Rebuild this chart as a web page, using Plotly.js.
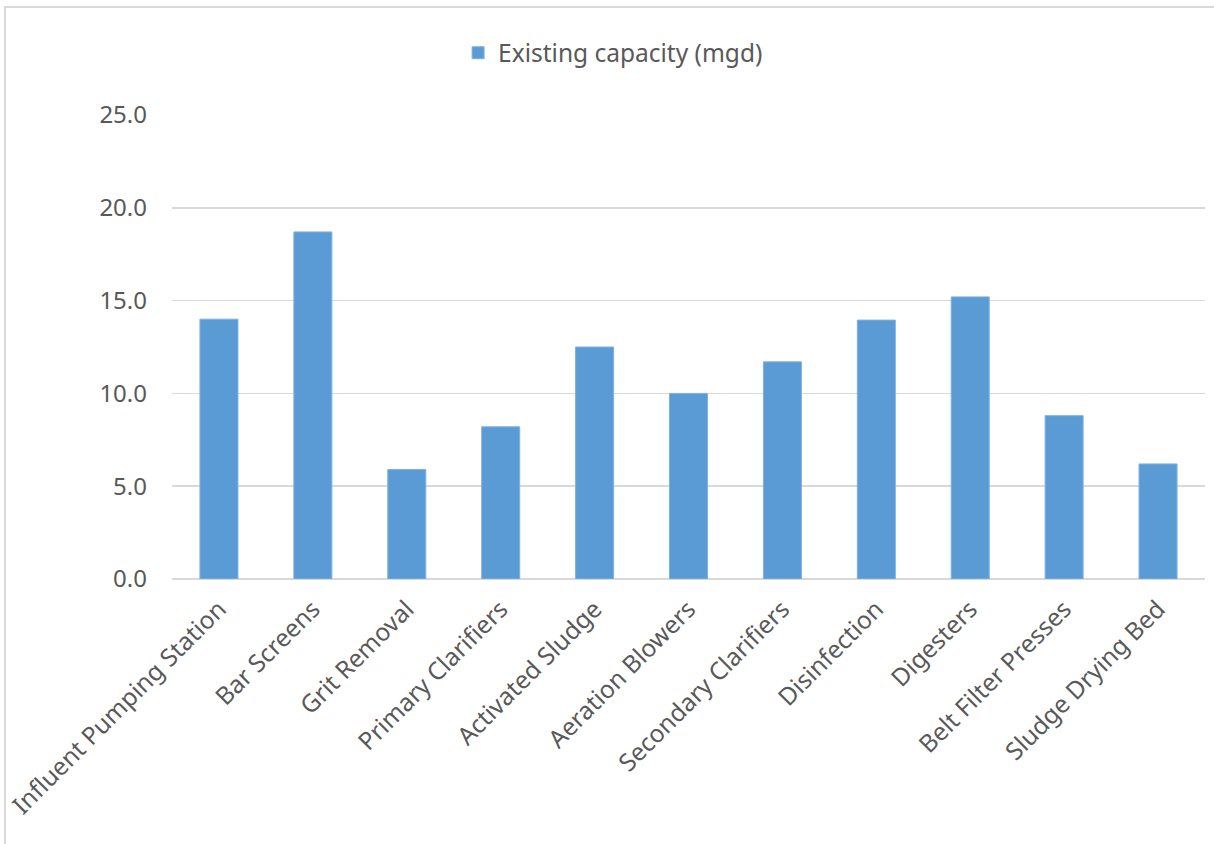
<!DOCTYPE html>
<html>
<head>
<meta charset="utf-8">
<script src="https://cdn.plot.ly/plotly-3.0.1.min.js"></script>
<style>
html,body{margin:0;padding:0;background:#fff;}
#wrap{position:relative;width:1214px;height:844px;overflow:hidden;}
#chart{position:absolute;left:0;top:0;width:1214px;height:844px;}
#frame{position:absolute;left:4px;top:6px;width:1220px;height:850px;border:2px solid #d9d9d9;pointer-events:none;box-sizing:border-box;}
</style>
</head>
<body>
<div id="wrap"><div id="chart"></div><div id="frame"></div></div>
<script>
const categories = ["Influent Pumping Station","Bar Screens","Grit Removal","Primary Clarifiers","Activated Sludge","Aeration Blowers","Secondary Clarifiers","Disinfection","Digesters","Belt Filter Presses","Sludge Drying Bed"];
const capacity = [14.0, 18.7, 5.9, 8.2, 12.5, 10.0, 11.7, 13.95, 15.2, 8.8, 6.2];
const seriesName = "Existing capacity (mgd)";
const yTicks = [0, 5, 10, 15, 20, 25];

const font = "'Noto Sans', 'Open Sans', sans-serif";
const trace = {
  type: 'bar',
  x: categories,
  y: capacity,
  name: seriesName,
  marker: {color: '#5b9bd5', line: {color: '#7fb2e0', width: 1}},
  hoverinfo: 'x+y'
};
const layout = {
  width: 1214, height: 844,
  margin: {l: 172, r: 9, t: 115, b: 265},
  paper_bgcolor: '#ffffff', plot_bgcolor: '#ffffff',
  bargap: 0.595,
  showlegend: true,
  legend: {orientation: 'h', x: 0.427, xanchor: 'center', y: 1.134, yanchor: 'middle',
           font: {family: font, size: 24.5, color: '#595959'}, itemwidth: 30},
  xaxis: {
    type: 'category', tickangle: -45, showgrid: false, zeroline: false,
    showline: false, ticks: '', tickfont: {family: font, size: 24.5, color: '#595959'},
    ticklabelstandoff: 10
  },
  yaxis: {
    range: [0, 25], tickvals: yTicks, ticktext: yTicks.map(v => v.toFixed(1)),
    showgrid: true, gridcolor: '#d9d9d9', gridwidth: 1.5, zeroline: true,
    zerolinecolor: '#d9d9d9', zerolinewidth: 1.5, showline: false, ticks: '',
    tickfont: {family: font, size: 24, color: '#595959'}, ticklabelstandoff: 24
  }
};
Plotly.newPlot('chart', [trace], layout, {displayModeBar: false, staticPlot: true});
</script>
</body>
</html>
